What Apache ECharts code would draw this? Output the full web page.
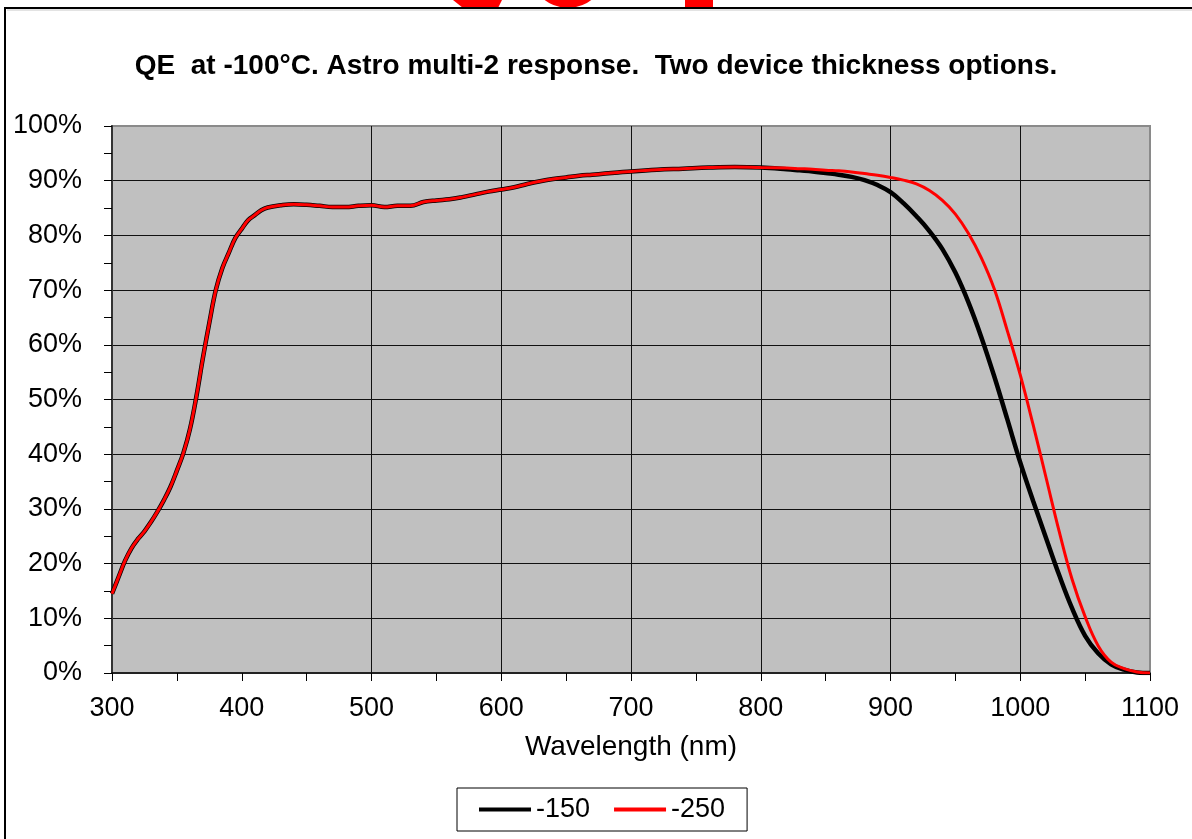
<!DOCTYPE html>
<html>
<head>
<meta charset="utf-8">
<title>QE at -100°C</title>
<script src="https://cdn.jsdelivr.net/npm/echarts@6/dist/echarts.min.js"></script>
<style>
  html, body { margin: 0; padding: 0; background: #fff; }
  #chart { width: 1192px; height: 839px; }
</style>
</head>
<body>
<div id="chart"></div>
<script>
// wavelength in nm, QE in %
var wavelength = [300, 305, 310, 315, 320, 325, 330, 335, 340, 345, 350, 355, 360, 365, 370, 375, 380, 385, 390, 395,
  400, 405, 410, 415, 420, 430, 440, 450, 460, 470, 480, 490, 500, 510, 520, 530, 540, 550, 560, 570,
  580, 590, 600, 610, 620, 630, 640, 650, 660, 670, 680, 690, 700, 720, 740, 760, 780, 800, 820, 830,
  840, 850, 860, 870, 880, 890, 900, 910, 920, 930, 940, 950, 960, 970, 980, 990, 1000, 1010, 1020, 1030,
  1040, 1050, 1060, 1070, 1080, 1090, 1100]
var qe150 = [14.5, 17.5, 20.5, 22.8, 24.5, 25.9, 27.6, 29.5, 31.6, 34.0, 37.0, 40.2, 44.5, 50.5, 57.5, 64.0, 70.0, 74.0, 76.8, 79.5,
  81.2, 82.8, 83.7, 84.6, 85.1, 85.5, 85.7, 85.6, 85.4, 85.2, 85.2, 85.4, 85.5, 85.2, 85.4, 85.4, 86.1, 86.4, 86.6, 87.0,
  87.5, 88.0, 88.4, 88.8, 89.4, 89.9, 90.3, 90.6, 90.9, 91.1, 91.3, 91.5, 91.7, 92.0, 92.2, 92.4, 92.5, 92.4, 92.1, 91.9,
  91.7, 91.4, 91.1, 90.7, 90.1, 89.2, 87.9, 85.9, 83.5, 80.8, 77.5, 73.2, 67.8, 61.4, 54.2, 46.4, 38.5, 31.4, 24.6, 17.9,
  11.8, 6.8, 3.6, 1.6, 0.6, 0.1, 0]
var qe250 = [14.5, 17.5, 20.5, 22.8, 24.5, 25.9, 27.6, 29.5, 31.6, 34.0, 37.0, 40.2, 44.5, 50.5, 57.5, 64.0, 70.0, 74.0, 76.8, 79.5,
  81.2, 82.8, 83.7, 84.6, 85.1, 85.5, 85.7, 85.6, 85.4, 85.2, 85.2, 85.4, 85.5, 85.2, 85.4, 85.4, 86.1, 86.4, 86.6, 87.0,
  87.5, 88.0, 88.4, 88.8, 89.4, 89.9, 90.3, 90.6, 90.9, 91.1, 91.3, 91.5, 91.7, 92.0, 92.2, 92.4, 92.5, 92.4, 92.3, 92.2,
  92.1, 91.9, 91.8, 91.6, 91.3, 91.0, 90.6, 90.1, 89.4, 88.2, 86.4, 83.9, 80.4, 75.9, 70.2, 62.6, 54.5, 45.3, 35.6, 25.9,
  17.1, 10.3, 5.0, 2.0, 0.8, 0.2, 0]
var seriesNames = ['-150', '-250']
var xTicks = { min: 300, max: 1100, step: 100 }
var yTicks = { min: 0, max: 100, step: 10 }
// vertical grid lines (there is none at 400 nm in the original)
var gridWavelengths = [500, 600, 700, 800, 900, 1000]

var font = 'Liberation Sans, Arial, sans-serif'

function pairs(values) {
  return wavelength.map(function(w, i) {
    return [w, values[i]]
  })
}

var chart = echarts.init(document.getElementById('chart'))

chart.setOption({
  animation: false,
  backgroundColor: '#fff',
  title: {
    text: 'QE  at -100°C. Astro multi-2 response.  Two device thickness options.',
    left: 'center',
    top: 47,
    textStyle: {
      fontFamily: font,
      fontWeight: 'bold',
      fontSize: 28,
      color: '#000'
    }
  },
  grid: {
    left: 112,
    right: 42,
    top: 126,
    bottom: 166,
    show: true,
    backgroundColor: '#c0c0c0',
    borderColor: '#8a8a8a',
    borderWidth: 2
  },
  legend: {
    data: [
      { name: seriesNames[0], icon: 'rect' },
      { name: seriesNames[1], icon: 'rect' }
    ],
    left: 457,
    top: 788,
    padding: [8, 22, 8, 22],
    itemGap: 24,
    itemWidth: 52,
    itemHeight: 4,
    borderColor: '#000',
    borderWidth: 1,
    backgroundColor: '#fff',
    textStyle: {
      fontFamily: font,
      fontSize: 27,
      color: '#000'
    }
  },
  xAxis: {
    type: 'value',
    min: xTicks.min,
    max: xTicks.max,
    interval: xTicks.step,
    name: 'Wavelength (nm)',
    nameLocation: 'middle',
    nameGap: 60,
    nameTextStyle: {
      fontFamily: font,
      fontSize: 28,
      color: '#000'
    },
    axisLine: { lineStyle: { color: '#000', width: 1.5 } },
    axisTick: { show: true, length: 8, lineStyle: { color: '#000' } },
    minorTick: { show: true, splitNumber: 2, length: 8, lineStyle: { color: '#000' } },
    axisLabel: {
      margin: 22,
      fontFamily: font,
      fontSize: 27,
      color: '#000',
      formatter: function(v) { return String(v) }
    },
    splitLine: { show: false }
  },
  yAxis: {
    type: 'value',
    min: yTicks.min,
    max: yTicks.max,
    interval: yTicks.step,
    axisLine: { show: true, lineStyle: { color: '#333', width: 2 } },
    axisTick: { show: true, length: 8, lineStyle: { color: '#000' } },
    minorTick: { show: true, splitNumber: 2, length: 8, lineStyle: { color: '#000' } },
    axisLabel: {
      margin: 30,
      fontFamily: font,
      fontSize: 27,
      color: '#000',
      formatter: '{value}%'
    },
    splitLine: {
      show: true,
      showMinLine: false,
      showMaxLine: false,
      lineStyle: { color: '#111', width: 1 }
    }
  },
  series: [{
    name: seriesNames[0],
    type: 'line',
    data: pairs(qe150),
    symbol: 'none',
    smooth: 0.4,
    z: 3,
    lineStyle: { color: '#000', width: 4.5 },
    itemStyle: { color: '#000' },
    markLine: {
      silent: true,
      symbol: 'none',
      label: { show: false },
      lineStyle: { color: '#111', width: 1, type: 'solid' },
      data: gridWavelengths.map(function(w) { return { xAxis: w } }),
      z: 1
    }
  }, {
    name: seriesNames[1],
    type: 'line',
    data: pairs(qe250),
    symbol: 'none',
    smooth: 0.4,
    z: 4,
    lineStyle: { color: '#ff0000', width: 3 },
    itemStyle: { color: '#ff0000' }
  }],
  graphic: [
    // bits of the red logo cut off at the top
    { type: 'polygon', shape: { points: [[453, 0], [502, 0], [498, 8], [463, 8]] }, style: { fill: '#ff0000' }, z: 1 },
    { type: 'circle', shape: { cx: 568, cy: -30, r: 38 }, style: { fill: '#ff0000' }, z: 1 },
    { type: 'rect', shape: { x: 685, y: 0, width: 28, height: 8 }, style: { fill: '#ff0000' }, z: 1 },
    // slide frame
    { type: 'rect', shape: { x: 5, y: 8, width: 1200, height: 850 }, style: { fill: 'rgba(0,0,0,0)', stroke: '#000', lineWidth: 2 }, z: 2 },
    { type: 'line', shape: { x1: 7, y1: 10, x2: 1192, y2: 10 }, style: { stroke: '#c8c8c8', lineWidth: 1 }, z: 2 }
  ]
})
</script>
</body>
</html>
